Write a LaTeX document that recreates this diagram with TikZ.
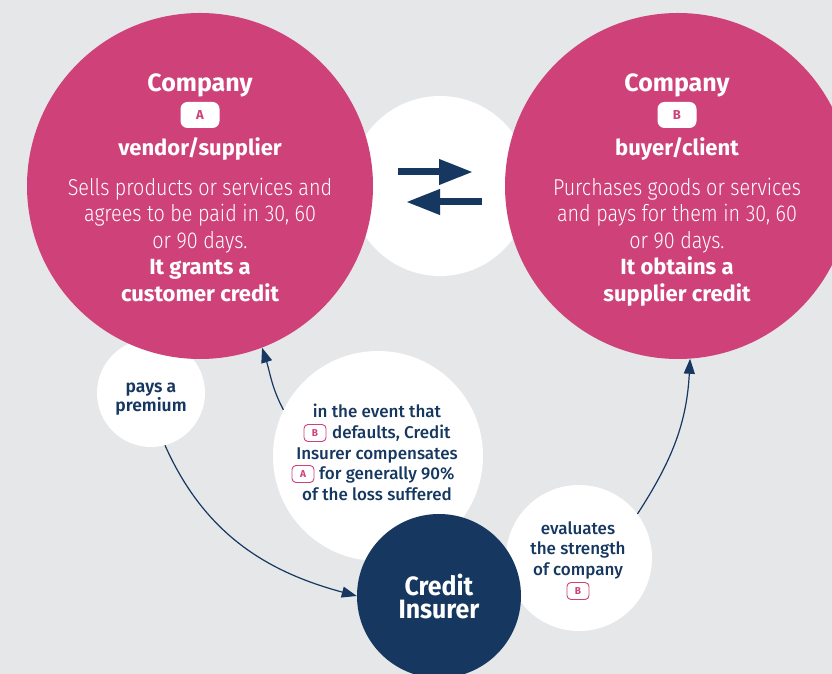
\documentclass[tikz,border=0pt]{standalone}
\usepackage{fontspec}
\setmainfont{Fira Sans}
\newfontfamily\lightf{Fira Sans Light}[FakeStretch=0.86]
\newfontfamily\boldf{Fira Sans}
\newfontfamily\boldn{Fira Sans}[FakeStretch=0.94]
\newfontfamily\medf{Fira Sans Medium}
\newfontfamily\sbf{Fira Sans SemiBold}
\usetikzlibrary{arrows.meta}
\definecolor{pinkc}{RGB}{206,66,121}
\definecolor{navyc}{RGB}{21,55,96}
\definecolor{bgc}{RGB}{230,231,233}
\tikzset{
  circ/.style={circle, inner sep=0pt, minimum size=#1},
  wcirc/.style={circ=#1, fill=white},
  pcirc/.style={circ=#1, fill=pinkc},
  ncirc/.style={circ=#1, fill=navyc},
  ptitle/.style={anchor=base, text=white, inner sep=0pt, font=\boldf\bfseries\fontsize{25}{25}\selectfont},
  psub/.style={anchor=base, text=white, inner sep=0pt, font=\boldf\bfseries\fontsize{22}{22}\selectfont},
  pbody/.style={anchor=base, text=white, inner sep=0pt, font=\lightf\fontsize{23}{23}\selectfont},
  ntext/.style={anchor=base, text=navyc, inner sep=0pt, font=\medf\fontsize{17}{17}\selectfont},
  ntextb/.style={anchor=base, text=navyc, inner sep=0pt, font=\sbf\fontsize{17.5}{17.5}\selectfont},
  wtitle/.style={align=center, text=white, inner sep=0pt, font=\boldn\bfseries\fontsize{26.5}{23}\selectfont},
  badge/.style={fill=white, rounded corners=7pt, minimum width=39pt, minimum height=26pt, inner sep=0pt, text=pinkc, font=\boldf\bfseries\fontsize{13}{13}\selectfont},
  obadge/.style={draw=pinkc, line width=0.9pt, fill=white, rounded corners=4pt, minimum width=22pt, minimum height=17pt, inner sep=0pt, text=pinkc, font=\boldf\bfseries\fontsize{10}{10}\selectfont},
  conn/.style={draw=navyc, line width=1.2pt, -{Triangle[length=15pt,width=11pt]}},
  bigarrow/.style={draw=navyc, line width=7pt, -{Triangle[length=34pt,width=24pt]}},
}
\begin{document}
\begin{tikzpicture}[x=1pt,y=1pt]
\useasboundingbox (0,0) rectangle (832,674);
\fill[bgc] (0,0) rectangle (832,674);
% white circles
\node[wcirc=180pt] (mid) at (440,488) {};
\node[wcirc=108pt] (prem) at (151,281) {};
\node[wcirc=210pt] (event) at (378,218) {};
\node[wcirc=146pt] (eval) at (579,116) {};
% pink circles
\node[pcirc=346pt] (ca) at (200,488) {};
\node[pcirc=346pt] (cb) at (678,488) {};
% navy circle
\node[ncirc=164pt] (ins) at (439,78) {};
% middle arrows
\coordinate (r1) at (398,502);
\coordinate (r2) at (473,502);
\coordinate (l1) at (482,472);
\coordinate (l2) at (406,472);
\draw[bigarrow] (r1) -- (r2);
\draw[bigarrow] (l1) -- (l2);
% company A text
\node[ptitle] (ta1) at (200,582) {Company};
\node[badge] (ba) at (200,559) {A};
\node[psub] (ta2) at (200,518) {vendor/supplier};
\node[pbody] (ta3) at (200,478) {Sells products or services and};
\node[pbody] (ta4) at (200,452) {agrees to be paid in 30, 60};
\node[pbody] (ta5) at (200,425) {or 90 days.};
\node[psub] (ta6) at (200,399) {It grants a};
\node[psub] (ta7) at (200,372) {customer credit};
% company B text
\node[ptitle] (tb1) at (677,582) {Company};
\node[badge] (bb) at (677,559) {B};
\node[psub] (tb2) at (677,518) {buyer/client};
\node[pbody] (tb3) at (677,478) {Purchases goods or services};
\node[pbody] (tb4) at (677,452) {and pays for them in 30, 60};
\node[pbody] (tb5) at (677,425) {or 90 days.};
\node[psub] (tb6) at (677,399) {It obtains a};
\node[psub] (tb7) at (677,372) {supplier credit};
% premium text
\node[ntextb] (tp1) at (151,281) {pays a};
\node[ntextb] (tp2) at (151,262) {premium};
% event text
\node[ntext] (te1) at (377,256) {in the event that};
\node[obadge] (eb) at (315,241) {B};
\node[ntext, anchor=base west] (te2) at (332,235) {defaults, Credit};
\node[ntext] (te3) at (377,214) {Insurer compensates};
\node[obadge] (ea) at (303,200) {A};
\node[ntext, anchor=base west] (te4) at (319,194) {for generally 90\%};
\node[ntext] (te5) at (377,173) {of the loss suffered};
% evaluates text
\node[ntext] (tv1) at (578,139) {evaluates};
\node[ntext] (tv2) at (578,119) {the strength};
\node[ntext] (tv3) at (578,98) {of company};
\node[obadge] (vb) at (578,83) {B};
% insurer text
\node[wtitle] (ti) at (439,78) {Credit\\Insurer};
% connectors
\draw[conn] (prem.-75) to[out=-66, in=165] (ins.west);
\draw[conn] (event.154) to[out=118, in=-72] (ca.-69);
\draw[conn] (eval.37) to[out=57, in=-93] (cb.-86.5);
\end{tikzpicture}
\end{document}
